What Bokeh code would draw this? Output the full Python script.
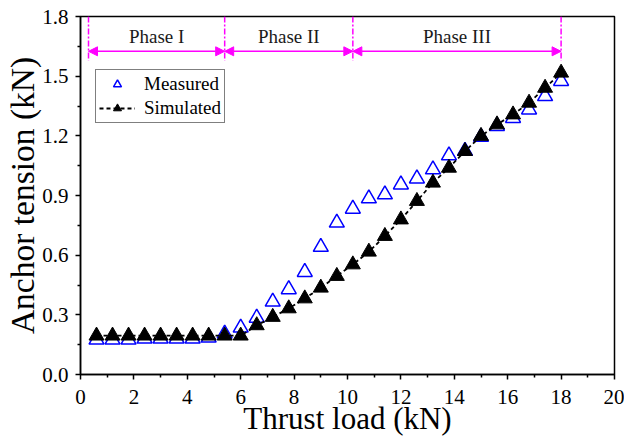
from bokeh.plotting import figure
from bokeh.models import (Arrow, NormalHead, Legend, LegendItem, FixedTicker,
                          PrintfTickFormatter, Range1d)
from bokeh.core.properties import value
from bokeh.embed import file_html
from bokeh.resources import INLINE

# ---- data ----
thrust = [0.6, 1.2, 1.8, 2.4, 3.0, 3.6, 4.2, 4.8, 5.4, 6.0,
          6.6, 7.2, 7.8, 8.4, 9.0, 9.6, 10.2, 10.8, 11.4, 12.0,
          12.6, 13.2, 13.8, 14.4, 15.0, 15.6, 16.2, 16.8, 17.4, 18.0]
measured = [0.175, 0.175, 0.175, 0.18, 0.18, 0.18, 0.18, 0.185, 0.205, 0.235,
            0.285, 0.366, 0.428, 0.515, 0.641, 0.763, 0.833, 0.885, 0.905, 0.955,
            0.985, 1.031, 1.101, 1.124, 1.194, 1.249, 1.289, 1.332, 1.399, 1.475]
simulated = [0.195, 0.195, 0.195, 0.195, 0.195, 0.195, 0.195, 0.195, 0.195, 0.195,
             0.247, 0.289, 0.332, 0.382, 0.436, 0.495, 0.553, 0.617, 0.696, 0.779,
             0.872, 0.964, 1.039, 1.123, 1.199, 1.257, 1.307, 1.366, 1.441, 1.517]
phase_bounds = [0.3, 5.4, 10.2, 18.0]
phase_labels = ["Phase I", "Phase II", "Phase III"]
x_ticks = [0, 2, 4, 6, 8, 10, 12, 14, 16, 18, 20]
y_ticks = [0.0, 0.3, 0.6, 0.9, 1.2, 1.5, 1.8]

FONT = "Liberation Serif"
MAGENTA = "#FF00FF"

p = figure(width=624, height=439, output_backend="svg", toolbar_location=None,
           x_range=Range1d(0, 20), y_range=Range1d(0, 1.8),
           min_border_left=80, min_border_right=10, min_border_top=16,
           min_border_bottom=65)
p.xgrid.visible = False
p.ygrid.visible = False
p.outline_line_color = "black"
p.outline_line_width = 1.5
p.background_fill_color = "white"
p.border_fill_color = "white"

# axes
p.xaxis.ticker = FixedTicker(ticks=x_ticks,
                             minor_ticks=[v + 1 for v in x_ticks[:-1]])
p.yaxis.ticker = FixedTicker(ticks=y_ticks,
                             minor_ticks=[round(v + 0.15, 2) for v in y_ticks[:-1]])
p.yaxis.formatter = PrintfTickFormatter(format="%.1f")
p.xaxis.formatter = PrintfTickFormatter(format="%d")
for ax in (p.xaxis, p.yaxis):
    ax.axis_line_width = 1.5
    ax.axis_line_color = "black"
    ax.major_tick_line_width = 1.5
    ax.minor_tick_line_width = 1.5
    ax.major_tick_line_color = "black"
    ax.minor_tick_line_color = "black"
    ax.major_tick_out = 5
    ax.major_tick_in = 0
    ax.minor_tick_out = 3
    ax.minor_tick_in = 0
    ax.major_label_text_font = FONT
    ax.major_label_text_font_size = "21px"
    ax.major_label_text_color = "black"
    ax.axis_label_text_font = FONT
    ax.axis_label_text_font_style = "normal"
    ax.axis_label_text_color = "black"
p.xaxis.axis_label_text_font_size = "31px"
p.yaxis.axis_label_text_font_size = "33.5px"
p.xaxis.axis_label = "Thrust load (kN)"
p.yaxis.axis_label = "Anchor tension (kN)"
p.xaxis.major_label_standoff = 10
p.xaxis.axis_label_standoff = -6
p.yaxis.major_label_standoff = 7
p.yaxis.axis_label_standoff = -2

# phase annotations
p.segment(x0=phase_bounds, y0=[1.8] * len(phase_bounds),
          x1=phase_bounds, y1=[1.578] * len(phase_bounds),
          line_color=MAGENTA, line_width=1.5, line_dash="6 2 2 2")
for i in range(len(phase_labels)):
    a = Arrow(start=NormalHead(size=9, fill_color=MAGENTA, line_color=MAGENTA),
              end=NormalHead(size=9, fill_color=MAGENTA, line_color=MAGENTA),
              x_start=phase_bounds[i], x_end=phase_bounds[i + 1],
              y_start=1.625, y_end=1.625, line_color=MAGENTA, line_width=1.5)
    p.add_layout(a)
centers = [(phase_bounds[i] + phase_bounds[i + 1]) / 2 for i in range(len(phase_labels))]
p.text(x=centers, y=[1.70] * len(centers), text=phase_labels,
       text_font=value(FONT), text_font_size="19px", text_align="center",
       text_baseline="middle", text_color="#1a1a1a")

# data
r_meas = p.scatter(thrust, measured, marker="triangle", size=15,
                   fill_color=None, line_color="blue", line_width=1.5)
r_line = p.line(thrust, simulated, line_color="black", line_width=1.8,
                line_dash="4 3")
r_sim = p.scatter(thrust, simulated, marker="triangle", size=15,
                  fill_color="black", line_color="black", line_width=1)

legend = Legend(items=[LegendItem(label="Measured", renderers=[r_meas]),
                       LegendItem(label="Simulated", renderers=[r_line, r_sim])],
                location=(15, 251))
legend.label_text_font = FONT
legend.label_text_font_size = "19px"
legend.label_text_color = "black"
legend.glyph_width = 36
legend.glyph_height = 20
legend.label_height = 20
legend.label_standoff = 9
legend.padding = 3
legend.spacing = 2
legend.margin = 0
legend.border_line_color = "black"
legend.border_line_width = 1
legend.background_fill_color = "white"
legend.background_fill_alpha = 1
p.add_layout(legend)

open("out.html", "w").write(file_html(p, INLINE))
